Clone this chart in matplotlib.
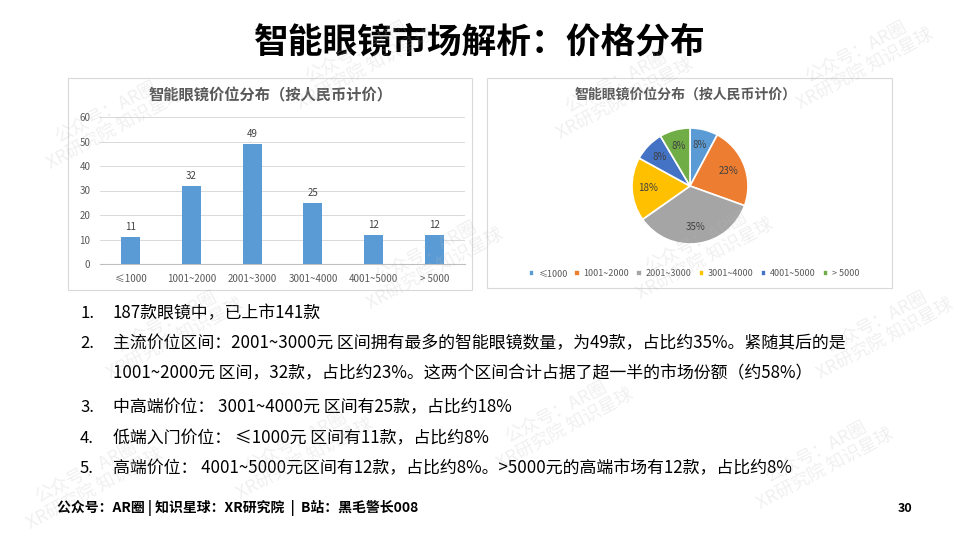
import numpy as np
import matplotlib
matplotlib.use('Agg')
import matplotlib.pyplot as plt
from matplotlib.patches import Rectangle

plt.rcParams['font.family'] = ['Noto Sans CJK SC', 'DejaVu Sans']

W, H = 960, 540

title = '智能眼镜市场解析：价格分布'
chart_title = '智能眼镜价位分布（按人民币计价）'
categories = ['≤1000', '1001~2000', '2001~3000', '3001~4000', '4001~5000', '> 5000']
counts = [11, 32, 49, 25, 12, 12]
pie_labels = ['8%', '23%', '35%', '18%', '8%', '8%']
pie_colors = ['#5B9BD5', '#ED7D31', '#A5A5A5', '#FFC000', '#4472C4', '#70AD47']
y_ticks = [0, 10, 20, 30, 40, 50, 60]

notes = [
    ('1.', '187款眼镜中，已上市141款'),
    ('2.', '主流价位区间：2001~3000元 区间拥有最多的智能眼镜数量，为49款，占比约35%。紧随其后的是'),
    ('', '1001~2000元 区间，32款，占比约23%。这两个区间合计占据了超一半的市场份额（约58%）'),
    ('3.', '中高端价位： 3001~4000元 区间有25款，占比约18%'),
    ('4.', '低端入门价位： ≤1000元 区间有11款，占比约8%'),
    ('5.', '高端价位： 4001~5000元区间有12款，占比约8%。>5000元的高端市场有12款，占比约8%'),
]
note_y = [318, 348, 378, 412, 443, 473]
footer = '公众号：AR圈 | 知识星球：XR研究院  |  B站：黑毛警长008'
page_no = '30'
watermark = '公众号：AR圈\nXR研究院 知识星球'


def px_rect(x0, y0, x1, y1):
    """pixel box (top-left origin) -> figure fraction rect"""
    return [x0 / W, 1 - y1 / H, (x1 - x0) / W, (y1 - y0) / H]


fig = plt.figure(figsize=(9.6, 5.4), dpi=100)
fig.patch.set_facecolor('white')

# slide title
fig.text(480 / W, 1 - 42 / H, title, ha='center', va='center',
         fontsize=25, fontweight='bold', color='black')

# panel borders
for x0, y0, x1, y1 in [(68, 78, 472, 290), (487, 78, 892, 288)]:
    fig.patches.append(Rectangle((x0 / W, 1 - y1 / H), (x1 - x0) / W, (y1 - y0) / H,
                                 transform=fig.transFigure, fill=False,
                                 edgecolor='#D9D9D9', linewidth=0.8))

# ---- bar chart ----------------------------------------------------------
ax = fig.add_axes(px_rect(100, 117, 465, 264))
x = np.arange(len(categories))
ax.bar(x, counts, width=0.31, color='#5B9BD5', zorder=3)
for xi, v in zip(x, counts):
    ax.text(xi, v + 2, str(v), ha='center', va='bottom', fontsize=7, color='#404040')
ax.set_xlim(-0.5, len(categories) - 0.5)
ax.set_ylim(0, 60)
ax.set_yticks(y_ticks)
ax.set_xticks(x)
ax.set_xticklabels(categories)
ax.tick_params(axis='both', length=0, labelsize=7, colors='#595959', pad=7)
ax.yaxis.grid(True, color='#D9D9D9', linewidth=0.7, zorder=0)
for s in ['top', 'right', 'left']:
    ax.spines[s].set_visible(False)
ax.spines['bottom'].set_color('#BFBFBF')
ax.set_facecolor('none')
fig.text(271 / W, 1 - 95 / H, chart_title, ha='center', va='center',
         fontsize=11, fontweight='bold', color='#595959')

# ---- pie chart ----------------------------------------------------------
r = 58
axp = fig.add_axes(px_rect(690 - r, 186 - r, 690 + r, 186 + r))
wedges, _ = axp.pie(counts, colors=pie_colors, startangle=90, counterclock=False,
                    wedgeprops=dict(edgecolor='white', linewidth=1.2))
for wdg, lab in zip(wedges, pie_labels):
    ang = np.deg2rad((wdg.theta1 + wdg.theta2) / 2)
    axp.text(0.72 * np.cos(ang), 0.72 * np.sin(ang), lab, ha='center', va='center',
             fontsize=7, color='#404040')
axp.set_xlim(-1, 1)
axp.set_ylim(-1, 1)
axp.set_aspect('equal')
fig.text(686 / W, 1 - 95 / H, chart_title, ha='center', va='center',
         fontsize=10, fontweight='bold', color='#595959')
fig.legend(wedges, categories, loc='center', bbox_to_anchor=(694 / W, 1 - 274 / H),
           ncol=6, frameon=False, fontsize=6.5, handlelength=0.6, handleheight=0.6,
           handletextpad=0.4, columnspacing=0.8, labelcolor='#595959')

# ---- notes --------------------------------------------------------------
for (num, txt), yy in zip(notes, note_y):
    if num:
        fig.text(80 / W, 1 - yy / H, num, ha='left', va='baseline', fontsize=12, color='black')
    fig.text(113 / W, 1 - yy / H, txt, ha='left', va='baseline', fontsize=12.2, color='black')

# ---- footer -------------------------------------------------------------
fig.text(57 / W, 1 - 508 / H, footer, ha='left', va='center', fontsize=10,
         fontweight='bold', color='black')
fig.text(905 / W, 1 - 508 / H, page_no, ha='center', va='center', fontsize=9,
         fontweight='bold', color='black')

# faint watermark tiles
wm_pos = [(110, 120), (360, 60), (620, 90), (860, 60), (170, 330), (430, 260),
          (700, 250), (880, 330), (300, 450), (560, 420), (820, 460), (90, 480)]
for wx, wy in wm_pos:
    fig.text(wx / W, 1 - wy / H, watermark, ha='center', va='center', fontsize=13,
             color='#BBBBBB', alpha=0.22, rotation=28, linespacing=1.1, zorder=10)

fig.savefig('out.png', dpi=100)
